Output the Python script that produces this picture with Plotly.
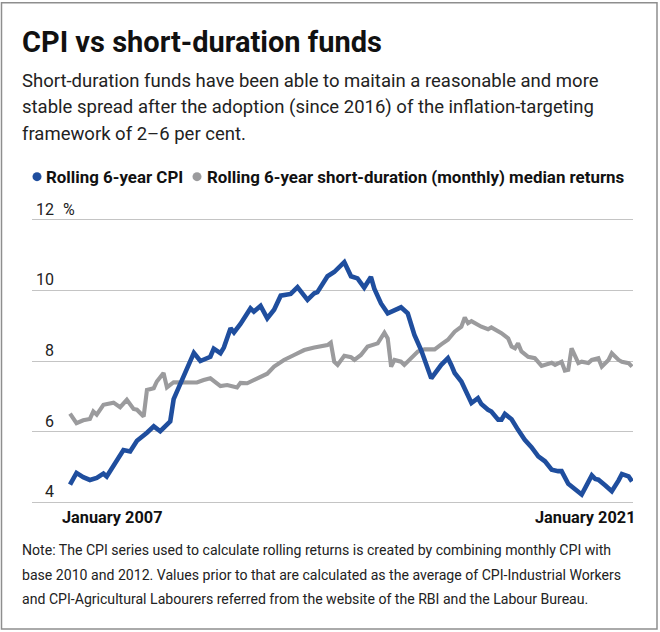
import plotly.graph_objects as go

# ---------------- data ----------------
cpi_dates = ["2007-01", "2007-03", "2007-05", "2007-07", "2007-09", "2007-11", "2007-12",
             "2008-02", "2008-05", "2008-07", "2008-09", "2008-12",
             "2009-02", "2009-04", "2009-07", "2009-08", "2009-10", "2009-12",
             "2010-02", "2010-04", "2010-07", "2010-08", "2010-10", "2010-11",
             "2011-01", "2011-02", "2011-04", "2011-07", "2011-08", "2011-10", "2011-12",
             "2012-02", "2012-04", "2012-07", "2012-09", "2012-12",
             "2013-02", "2013-03", "2013-06", "2013-08", "2013-11",
             "2014-01", "2014-03", "2014-05", "2014-07", "2014-08", "2014-10", "2014-12",
             "2015-02", "2015-04", "2015-06", "2015-08", "2015-10", "2015-12",
             "2016-01", "2016-04", "2016-06", "2016-07", "2016-08", "2016-10", "2016-12",
             "2017-01", "2017-03", "2017-04", "2017-06", "2017-07", "2017-09", "2017-10", "2017-11",
             "2018-01", "2018-03", "2018-05", "2018-07", "2018-09", "2018-11",
             "2019-01", "2019-03", "2019-04", "2019-06", "2019-09", "2019-10", "2019-11",
             "2020-01", "2020-02", "2020-03", "2020-05", "2020-07", "2020-09", "2020-10", "2020-12",
             "2021-01"]
cpi_values = [4.50, 4.83, 4.71, 4.63, 4.69, 4.81, 4.73,
              5.02, 5.48, 5.44, 5.74, 5.97,
              6.15, 6.01, 6.29, 6.92, 7.34, 7.75,
              8.23, 8.00, 8.12, 8.35, 8.22, 8.38,
              8.93, 8.81, 9.05, 9.49, 9.40, 9.56, 9.21,
              9.45, 9.85, 9.90, 10.09, 9.73,
              9.92, 9.95, 10.40, 10.52, 10.80,
              10.40, 10.34, 10.08, 10.38, 10.05, 9.63, 9.35,
              9.44, 9.52, 9.35, 8.74, 8.31, 7.80,
              7.51, 7.89, 8.08, 7.89, 7.66, 7.42, 6.99,
              6.81, 6.95, 6.78, 6.62, 6.57, 6.34, 6.34, 6.50,
              6.35, 6.05, 5.77, 5.56, 5.30, 5.16,
              4.92, 4.88, 4.88, 4.52, 4.30, 4.22, 4.40,
              4.76, 4.66, 4.64, 4.48, 4.31, 4.62, 4.80, 4.73,
              4.59]

fund_dates = ["2007-01", "2007-03", "2007-05", "2007-07", "2007-08", "2007-09", "2007-11",
              "2008-02", "2008-04", "2008-06", "2008-08", "2008-09", "2008-11", "2008-12",
              "2009-02", "2009-03", "2009-05", "2009-06", "2009-08", "2009-11",
              "2010-03", "2010-05", "2010-07", "2010-10", "2010-12",
              "2011-03", "2011-04", "2011-06", "2011-09", "2011-12",
              "2012-02", "2012-05", "2012-08", "2012-11",
              "2013-02", "2013-04", "2013-06", "2013-07", "2013-08", "2013-09", "2013-11",
              "2014-01", "2014-02", "2014-04", "2014-06", "2014-09", "2014-11", "2014-12",
              "2015-01", "2015-02", "2015-04", "2015-05", "2015-07", "2015-09", "2015-11",
              "2016-02", "2016-04", "2016-06", "2016-08", "2016-10", "2016-11", "2016-12",
              "2017-01", "2017-04", "2017-06", "2017-07", "2017-10", "2017-12",
              "2018-01", "2018-02", "2018-03", "2018-04", "2018-06", "2018-08", "2018-10", "2018-11",
              "2019-01", "2019-02", "2019-04", "2019-05", "2019-06", "2019-07", "2019-09", "2019-10", "2019-12",
              "2020-01", "2020-03", "2020-04", "2020-06", "2020-07", "2020-09", "2020-10", "2020-12",
              "2021-01"]
fund_values = [6.51, 6.24, 6.32, 6.36, 6.57, 6.48, 6.76,
               6.82, 6.69, 6.90, 6.64, 6.62, 6.43, 7.18,
               7.23, 7.42, 7.66, 7.25, 7.40, 7.39,
               7.39, 7.46, 7.51, 7.29, 7.32,
               7.25, 7.38, 7.37, 7.51, 7.64,
               7.84, 8.03, 8.17, 8.31,
               8.38, 8.41, 8.45, 8.52, 7.98, 7.89, 8.15,
               8.11, 8.03, 8.17, 8.41, 8.50, 8.80, 8.64,
               7.84, 8.03, 7.98, 7.89, 8.08, 8.27, 8.33,
               8.33, 8.47, 8.60, 8.83, 8.97, 9.23, 9.07,
               9.13, 8.97, 8.90, 8.95, 8.79, 8.64,
               8.41, 8.36, 8.50, 8.27, 8.12, 8.08, 7.86, 7.89,
               7.95, 7.89, 7.98, 7.73, 7.75, 8.36, 7.94, 7.98, 7.94,
               8.03, 8.08, 7.84, 8.03, 8.22, 8.03, 7.98, 7.94,
               7.84]

series_names = ["Rolling 6-year CPI",
                "Rolling 6-year short-duration (monthly) median returns"]
y_ticks = [4, 6, 8, 10, 12]
y_tick_labels = ["4", "6", "8", "10", "12"]
x_label_dates = ["2007-01-01", "2021-01-01"]
x_labels = ["January 2007", "January 2021"]

title = "CPI vs short-duration funds"
subtitle_lines = ["Short-duration funds have been able to maitain a reasonable and more",
                  "stable spread after the adoption (since 2016) of the inflation-targeting",
                  "framework of 2\u20136 per cent."]
note_lines = ["Note: The CPI series used to calculate rolling returns is created by combining monthly CPI with",
              "base 2010 and 2012. Values prior to that are calculated as the average of CPI-Industrial Workers",
              "and CPI-Agricultural Labourers referred from the website of the RBI and the Labour Bureau."]

# ---------------- styling / layout ----------------
W, H = 660, 632
L, R = 32, 633          # plot area in pixels
T, B = 217.5, 504.5
BLUE = "#1f4e9e"
GREY = "#9b9b9d"
FONT = "Roboto"


def px(xp):
    return (xp - L) / (R - L)


def py(yp):
    return (B - yp) / (B - T)


fig = go.Figure()
fig.add_trace(go.Scatter(x=fund_dates, y=fund_values, mode="lines", name=series_names[1],
                         line=dict(color=GREY, width=4.1), hoverinfo="skip"))
fig.add_trace(go.Scatter(x=cpi_dates, y=cpi_values, mode="lines", name=series_names[0],
                         line=dict(color=BLUE, width=4.6), hoverinfo="skip"))

ann = []
ann.append(dict(text=f"<b>{title}</b>", x=px(20), y=py(41), xref="paper", yref="paper",
                xanchor="left", yanchor="middle", showarrow=False,
                font=dict(family=FONT, size=29, color="#111111")))
for i, line in enumerate(subtitle_lines):
    ann.append(dict(text=line, x=px(20), y=py(80 + 26.5 * i), xref="paper", yref="paper",
                    xanchor="left", yanchor="middle", align="left", showarrow=False,
                    font=dict(family=FONT, size=18.5, color="#222222")))
# legend
ann.append(dict(text=f"<b>{series_names[0]}</b>", x=px(44), y=py(176), xref="paper", yref="paper",
                xanchor="left", yanchor="middle", showarrow=False,
                font=dict(family=FONT, size=16.9, color="#111111")))
ann.append(dict(text=f"<b>{series_names[1]}</b>", x=px(205), y=py(176), xref="paper", yref="paper",
                xanchor="left", yanchor="middle", showarrow=False,
                font=dict(family=FONT, size=16.9, color="#111111")))
# y tick labels above gridlines
for v, t in zip(y_ticks, y_tick_labels):
    ann.append(dict(text=t, x=px(56), y=v, xref="paper", yref="y", xanchor="right",
                    yanchor="middle", yshift=10.5, showarrow=False,
                    font=dict(family=FONT, size=16, color="#222222")))
ann.append(dict(text="%", x=px(61), y=y_ticks[-1], xref="paper", yref="y", xanchor="left",
                yanchor="middle", yshift=10.5, showarrow=False,
                font=dict(family=FONT, size=16, color="#222222")))
# x labels
ann.append(dict(text=f"<b>{x_labels[0]}</b>", x=x_label_dates[0], y=py(518), xref="x", yref="paper",
                xanchor="left", yanchor="middle", xshift=-10, showarrow=False,
                font=dict(family=FONT, size=16.3, color="#111111")))
ann.append(dict(text=f"<b>{x_labels[1]}</b>", x=x_label_dates[1], y=py(518), xref="x", yref="paper",
                xanchor="right", yanchor="middle", xshift=5, showarrow=False,
                font=dict(family=FONT, size=16.3, color="#111111")))
# note
for i, line in enumerate(note_lines):
    ann.append(dict(text=line, x=px(20), y=py(551 + 24.3 * i), xref="paper", yref="paper",
                    xanchor="left", yanchor="middle", align="left", showarrow=False,
                    font=dict(family=FONT, size=14.1, color="#222222")))

shapes = [
    dict(type="rect", xref="paper", yref="paper", x0=px(1.5), x1=px(657), y0=py(1.5), y1=py(630),
         line=dict(color="#8e8e8e", width=1.5), fillcolor="rgba(0,0,0,0)", layer="below"),
    dict(type="circle", xref="paper", yref="paper", xsizemode="pixel", ysizemode="pixel",
         xanchor=px(37), yanchor=py(176), x0=-4.5, x1=4.5, y0=-4.5, y1=4.5,
         fillcolor=BLUE, line=dict(width=0)),
    dict(type="circle", xref="paper", yref="paper", xsizemode="pixel", ysizemode="pixel",
         xanchor=px(197), yanchor=py(176), x0=-4.5, x1=4.5, y0=-4.5, y1=4.5,
         fillcolor=GREY, line=dict(width=0)),
]

fig.update_layout(
    width=W, height=H,
    margin=dict(l=L, r=W - R, t=T, b=H - B, pad=0),
    paper_bgcolor="white", plot_bgcolor="white",
    showlegend=False,
    annotations=ann, shapes=shapes,
    xaxis=dict(type="date", range=["2006-01-20", "2021-01-10"], showgrid=False,
               showticklabels=False, zeroline=False, showline=False, ticks=""),
    yaxis=dict(range=[3.95, 12.05], tickvals=y_ticks, showticklabels=False,
               gridcolor="#c4c4c4", gridwidth=1.2, zeroline=False, showline=False, ticks=""),
)

fig.write_html("out.html", config={"displayModeBar": False},
               post_script="document.body.style.margin='0';document.body.style.overflow='hidden';")
